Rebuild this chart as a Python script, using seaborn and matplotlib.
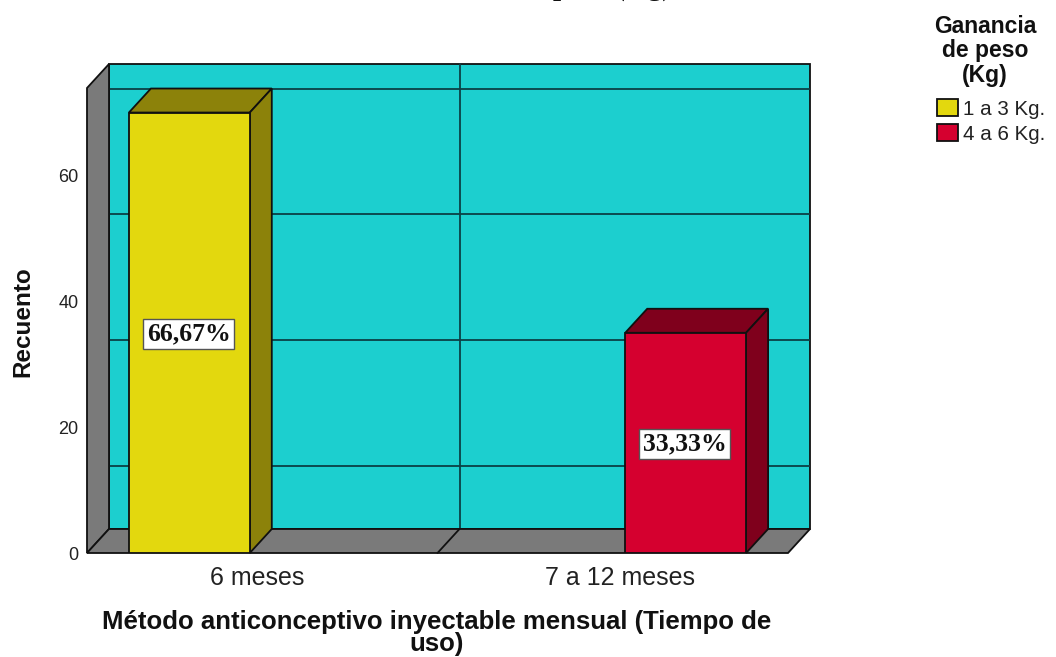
import matplotlib
matplotlib.use("Agg")
import matplotlib.pyplot as plt
import pandas as pd
import seaborn as sns
from matplotlib.patches import Polygon

# Data
categories = ["6 meses", "7 a 12 meses"]
hue_levels = ["1 a 3 Kg.", "4 a 6 Kg."]
bar_category = ["6 meses", "7 a 12 meses"]
bar_hue = ["1 a 3 Kg.", "4 a 6 Kg."]
bar_counts = [70, 35]
bar_labels = ["66,67%", "33,33%"]
y_ticks = [0, 20, 40, 60]
grid_values = [10, 30, 50, 70]
legend_title = "Ganancia\nde peso\n(Kg)"
x_title = "Método anticonceptivo inyectable mensual (Tiempo de\nuso)"
y_title = "Recuento"
cut_title = "peso (Kg)"

# Style
W, H = 1056, 657
WALL = "#1CCFCF"; GRAY = "#7A7A7A"; EDGE = "#101010"
FRONT = ["#E3D80E", "#D5002F"]
DARK = ["#8C820A", "#7F001C"]
sns.set_theme(style="white")
plt.rcParams["font.family"] = ["Liberation Sans", "DejaVu Sans"]

fig = plt.figure(figsize=(W / 100, H / 100), dpi=100)
ax = fig.add_axes([87 / W, 1 - 553 / H, 701 / W, 465 / H])
df = pd.DataFrame({"cat": bar_category, legend_title: bar_hue, "n": bar_counts})
sns.barplot(data=df, x="cat", y="n", hue=legend_title, order=categories,
            hue_order=hue_levels, palette=FRONT, width=0.832, gap=0.171, dodge=True,
            edgecolor=EDGE, linewidth=1.3, saturation=1, ax=ax, zorder=5)
ax.set_xlim(-0.5, 1.5)
ax.set_ylim(0, 73.9)
dx, dy = 22 / 350.5, 24 / 6.29
x0, x1, ytop = -0.5, 1.5, 73.9


def face(pts, color, z):
    ax.add_patch(Polygon(pts, closed=True, facecolor=color, edgecolor=EDGE,
                         linewidth=1.3, clip_on=False, zorder=z))


# Walls and floor
face([(x0 + dx, dy), (x1 + dx, dy), (x1 + dx, ytop + dy), (x0 + dx, ytop + dy)], WALL, 1)
face([(x0, 0), (x0 + dx, dy), (x0 + dx, ytop + dy), (x0, ytop)], GRAY, 2)
face([(x0, 0), (x1, 0), (x1 + dx, dy), (x0 + dx, dy)], GRAY, 2)
ax.hlines([v + dy for v in grid_values], x0 + dx, x1 + dx, color="#0B3F45",
          linewidth=1.3, clip_on=False, zorder=1.5)
ax.plot([0.5 + dx, 0.5 + dx], [dy, ytop + dy], color="#0B3F45", lw=1.3,
        clip_on=False, zorder=1.5)
ax.plot([0.5, 0.5 + dx], [0, dy], color=EDGE, lw=1.3, clip_on=False, zorder=2.5)

bars = [b for c in ax.containers for b in c if b.get_height() > 0]
for bar, dark, text in zip(bars, DARK, bar_labels):
    l, r, h = bar.get_x(), bar.get_x() + bar.get_width(), bar.get_height()
    face([(l, h), (r, h), (r + dx, h + dy), (l + dx, h + dy)], dark, 4)
    face([(r, 0), (r + dx, dy), (r + dx, h + dy), (r, h)], dark, 4)
    ax.text((l + r) / 2 - 0.002, h / 2 - 0.2, text, ha="center", va="center", zorder=7,
            family=["Liberation Serif"], fontweight="bold", fontsize=18.5, color="#111111",
            bbox=dict(boxstyle="square,pad=0.14", facecolor="white", edgecolor="#555555", linewidth=1))

# Axes text
ax.set_xticks([-0.015, 1.02], categories)
ax.set_yticks(y_ticks)
ax.tick_params(axis="x", length=0, labelsize=18, pad=9.5, labelcolor="#222222")
ax.tick_params(axis="y", length=0, labelsize=13, pad=6, labelcolor="#222222")
sns.despine(ax=ax, left=True, bottom=True)
ax.set_xlabel("")
ax.set_ylabel("")
fig.text(22.5 / W, 1 - 322 / H, y_title, rotation=90, ha="center", va="center",
         fontsize=17.5, fontweight="bold", color="#111111")
fig.text(437 / W, 1 - 633 / H, x_title, ha="center", va="center", fontsize=18.5,
         fontweight="bold", linespacing=0.92, color="#111111")
# Title of the source, cut off by the top edge: only its descenders show
fig.text(672 / W, 1 + 5 / H, cut_title, ha="right", va="baseline", fontsize=21,
         family=["Liberation Serif"], fontweight="bold", color="#111111")

# Legend
sns.move_legend(ax, "upper left", bbox_to_anchor=(937 / W, 1 - 15 / H),
                bbox_transform=fig.transFigure, frameon=False, fontsize=14.8,
                title_fontproperties={"weight": "bold", "size": 16.5},
                handlelength=1.0, handleheight=0.9, handletextpad=0.25,
                labelspacing=0.25, borderpad=0, borderaxespad=0)
leg = ax.get_legend()
leg.get_title().set_multialignment("center")
leg.get_title().set_linespacing(1.08)
leg.get_title().set_color("#111111")
leg.get_title().set_x(-6)
leg._legend_box.align = "center"
leg._legend_box.sep = 9
for t in leg.get_texts():
    t.set_color("#222222")
fig.savefig("out.png", dpi=100)
